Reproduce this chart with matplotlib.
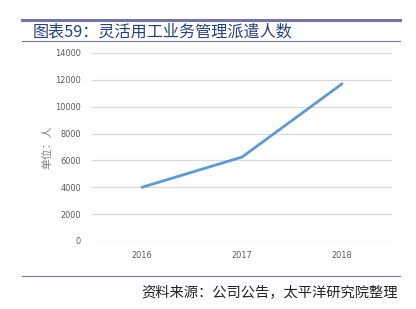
import matplotlib
matplotlib.use("Agg")
import matplotlib.pyplot as plt
from matplotlib.lines import Line2D

plt.rcParams["font.family"] = ["Noto Sans CJK SC", "DejaVu Sans"]

years = ["2016", "2017", "2018"]
workers = [4000, 6250, 11700]
yticks = [0, 2000, 4000, 6000, 8000, 10000, 12000, 14000]

C_LINE = "#5b9bd5"
C_RULE = "#7474a8"
C_TITLE = "#263f80"
C_GRID = "#d9d9d9"
C_TICK = "#595959"

fig = plt.figure(figsize=(4.16, 3.09), dpi=100)
ax = fig.add_axes([92/416, 1 - 241/309, 300/416, 188/309])

xs = range(len(years))
ax.plot(xs, workers, color=C_LINE, lw=2.0, solid_capstyle="round")
ax.set_xlim(-0.5, len(years) - 0.5)
ax.set_ylim(0, 14000)
ax.set_yticks(yticks)
ax.set_yticklabels([str(v) for v in yticks], fontsize=5.9, color=C_TICK,
                   family="DejaVu Sans")
ax.set_xticks(list(xs))
ax.set_xticklabels(years, fontsize=5.9, color=C_TICK, family="DejaVu Sans")
ax.tick_params(length=0, pad=8)
ax.tick_params(axis="x", pad=7)
ax.grid(axis="y", color=C_GRID, lw=0.9)
ax.set_axisbelow(True)
for s in ax.spines.values():
    s.set_visible(False)
ax.set_ylabel("单位：人", fontsize=7.8, color="#808080", labelpad=2)

# 顶部标题栏
fig.add_artist(Line2D([22/416, 400/416], [1 - 20/309, 1 - 20/309],
                      color=C_RULE, lw=2.2))
fig.add_artist(Line2D([22/416, 400/416], [1 - 41/309, 1 - 41/309],
                      color=C_RULE, lw=0.8))
fig.text(33/416, 1 - 32/309, "图表59：灵活用工业务管理派遣人数",
         fontsize=11.6, color=C_TITLE, va="center", ha="left")

# 底部来源
fig.add_artist(Line2D([22/416, 400/416], [1 - 276/309, 1 - 276/309],
                      color=C_RULE, lw=0.8))
fig.text(398/416, 1 - 292/309, "资料来源：公司公告，太平洋研究院整理",
         fontsize=10.3, color="#222222", va="center", ha="right", style="italic")

fig.savefig("out.png", dpi=100, facecolor="white")
